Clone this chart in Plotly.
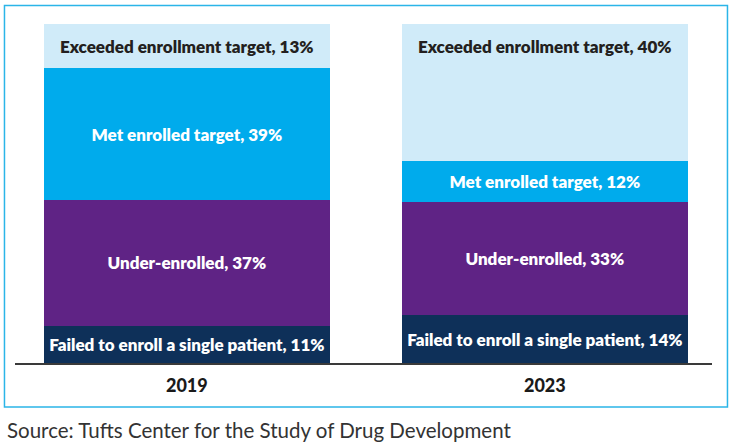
import plotly.graph_objects as go

# enrollment outcomes by year (percent of trials)
years = ["2019", "2023"]
failed = [11, 14]
under = [37, 33]
met = [39, 12]
exceeded = [13, 40]

series = [
    ("Failed to enroll a single patient", failed, "#0E3059", "white"),
    ("Under-enrolled", under, "#5F2385", "white"),
    ("Met enrolled target", met, "#00ABEC", "white"),
    ("Exceeded enrollment target", exceeded, "#D0EBF9", "#231F20"),
]

label_font = "Lato"

fig = go.Figure()
for name, vals, color, txtcolor in series:
    top = name.startswith("Exceeded")
    fig.add_trace(go.Bar(
        x=years,
        y=vals,
        name=name,
        marker=dict(color=color, line=dict(width=0)),
        text=[f"{name}, {v}%" for v in vals],
        # top segment label sits near the top of the bar, done below as annotation
        textposition="none" if top else "inside",
        insidetextanchor="middle",
        textangle=0,
        insidetextfont=dict(family=label_font, size=17, color=txtcolor, weight=800),
        hoverinfo="skip",
    ))
    if top:
        # category axis: annotation x is the category's serial number
        for i, v in enumerate(vals):
            fig.add_annotation(
                x=i, y=100, yshift=-22,
                text=f"{name}, {v}%",
                showarrow=False,
                xanchor="center", yanchor="middle",
                font=dict(family=label_font, size=17, color=txtcolor, weight=800),
            )

# plot area spans px 15..712 horizontally, 24..363 vertically
fig.update_layout(
    width=731,
    height=443,
    barmode="stack",
    barnorm="percent",
    bargap=0.2,
    showlegend=False,
    paper_bgcolor="white",
    plot_bgcolor="white",
    margin=dict(l=15, r=19, t=24, b=80),
    uniformtext=dict(minsize=17, mode="show"),
    xaxis=dict(
        type="category",
        range=[-0.48, 1.467],
        showline=True,
        linecolor="#3a3a3a",
        linewidth=2,
        showgrid=False,
        ticks="outside",
        ticklen=5,
        tickcolor="rgba(0,0,0,0)",
        tickfont=dict(family=label_font, size=18, color="#1a1a1a", weight=900),
        fixedrange=True,
    ),
    yaxis=dict(
        range=[0, 100],
        visible=False,
        fixedrange=True,
    ),
)

# light blue frame around the chart
fig.add_shape(
    type="rect", xref="paper", yref="paper",
    x0=-0.0151, x1=1.0222, y0=-0.1298, y1=1.0545,
    line=dict(color="#2BB5E8", width=1.5),
    fillcolor="rgba(0,0,0,0)",
    layer="below",
)

fig.add_annotation(
    text="Source: Tufts Center for the Study of Drug Development",
    xref="paper", yref="paper",
    x=-0.0144, y=-0.1976,
    xanchor="left", yanchor="middle",
    showarrow=False,
    font=dict(family=label_font, size=20.5, color="#333333"),
)

# page body has a default margin; drop it so the figure sits at 0,0
fig.write_html(
    "out.html",
    config={"displayModeBar": False},
    post_script="document.body.style.margin='0';",
)
